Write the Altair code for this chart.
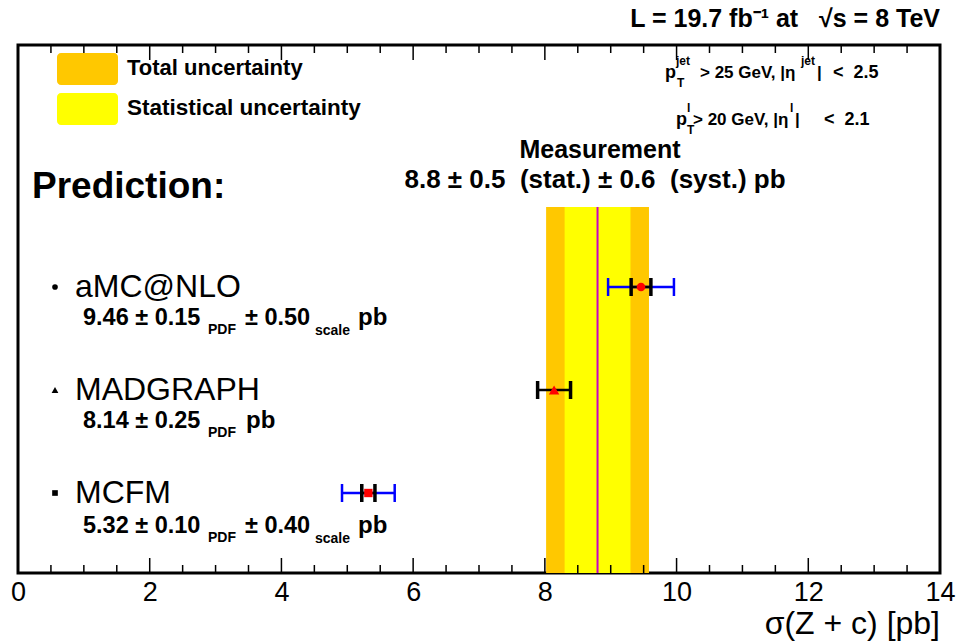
import altair as alt
import pandas as pd

# ---- data ----
models = ["aMC@NLO", "MADGRAPH", "MCFM"]
pred_val = [9.46, 8.14, 5.32]
pred_pdf = [0.15, 0.25, 0.10]
pred_scale = [0.50, 0.0, 0.40]
shapes = ["circle", "triangle-up", "square"]

meas_val = 8.8
meas_stat = 0.5
meas_syst = 0.6
meas_tot = (meas_stat ** 2 + meas_syst ** 2) ** 0.5

major_ticks = [0, 2, 4, 6, 8, 10, 12, 14]
minor_ticks = [i * 0.5 for i in range(29) if (i * 0.5) not in major_ticks]

W, H = 922, 528
FONT = "Liberation Sans, Arial, Helvetica, sans-serif"
NB = "\u00a0"

xscale = alt.Scale(domain=[0, 14], nice=False, zero=False)
xaxis = alt.Axis(values=major_ticks, ticks=False, domain=False, grid=False,
                 labelFontSize=27, labelFont=FONT, labelColor="black",
                 labelPadding=6, title=None, labelFlush=False)


def X(field):
    return alt.X(field, type="quantitative", scale=xscale, axis=xaxis)


yscale = alt.Scale(domain=[0, 2], range=[242, 448], nice=False, zero=False)


def Y(field="rank"):
    return alt.Y(field, type="quantitative", scale=yscale, axis=None)


# measurement bands
bands = pd.DataFrame({
    "lo": [meas_val - meas_tot, meas_val - meas_stat],
    "hi": [meas_val + meas_tot, meas_val + meas_stat],
})
band_layer = alt.layer(
    alt.Chart(bands.iloc[[0]]).mark_rect(color="#ffc800").encode(
        x=X("lo"), x2="hi", y=alt.value(162), y2=alt.value(H)),
    alt.Chart(bands.iloc[[1]]).mark_rect(color="#ffff00").encode(
        x=X("lo"), x2="hi", y=alt.value(162), y2=alt.value(H)),
)

meas_line = alt.Chart(pd.DataFrame({"v": [meas_val]})).mark_rule(
    color="#c800c8", strokeWidth=2).encode(x=X("v"), y=alt.value(162), y2=alt.value(H))

# prediction error bars
rows = []
for i, (m, v, p, s) in enumerate(zip(models, pred_val, pred_pdf, pred_scale)):
    if s > 0:
        rows.append({"model": m, "rank": i, "lo": v - s, "hi": v + s, "kind": "scale"})
    rows.append({"model": m, "rank": i, "lo": v - p, "hi": v + p, "kind": "pdf"})
err = pd.DataFrame(rows)
err_s = err[err.kind == "scale"]
err_p = err[err.kind == "pdf"]


def bar_layers(df, color, thick):
    capdf = pd.concat([df.assign(pos=df["lo"]), df.assign(pos=df["hi"])])
    return alt.layer(
        alt.Chart(df).mark_rule(color=color, strokeWidth=2.5).encode(x=X("lo"), x2="hi", y=Y()),
        alt.Chart(capdf).mark_tick(orient="vertical", size=18, thickness=thick, color=color,
                                   opacity=1).encode(x=X("pos"), y=Y()),
    )


preds = pd.DataFrame({"model": models, "val": pred_val, "rank": list(range(len(models)))})
red_sizes = {"circle": 75, "triangle-up": 110, "square": 70}
black_sizes = {"circle": 32, "triangle-up": 45, "square": 32}
marker_layers = []
for i, shp in enumerate(shapes):
    row = preds.iloc[[i]]
    marker_layers.append(alt.Chart(row).mark_point(
        filled=True, color="#ff0000", opacity=1, strokeWidth=0, shape=shp,
        size=red_sizes[shp]).encode(x=X("val"), y=Y()))
    marker_layers.append(alt.Chart(row).mark_point(
        filled=True, color="black", opacity=1, strokeWidth=0, shape=shp,
        size=black_sizes[shp]).encode(x=alt.value(37), y=Y()))

names = alt.Chart(preds).mark_text(align="left", baseline="middle", fontSize=32,
                                   font=FONT, color="black").encode(
    x=alt.value(57), y=Y(), text="model:N")

# axis ticks (inward), bottom and top
maj = pd.DataFrame({"t": major_ticks})
mnr = pd.DataFrame({"t": minor_ticks})
ticks = alt.layer(
    alt.Chart(maj).mark_rule(color="black", strokeWidth=1.5).encode(x=X("t"), y=alt.value(H), y2=alt.value(H - 15)),
    alt.Chart(mnr).mark_rule(color="black", strokeWidth=1.5).encode(x=X("t"), y=alt.value(H), y2=alt.value(H - 8)),
    alt.Chart(maj).mark_rule(color="black", strokeWidth=1.5).encode(x=X("t"), y=alt.value(0), y2=alt.value(15)),
    alt.Chart(mnr).mark_rule(color="black", strokeWidth=1.5).encode(x=X("t"), y=alt.value(0), y2=alt.value(8)),
)

# legend boxes
leg_labels = ["Total uncertainty", "Statistical uncertainty"]
leg_df = pd.DataFrame({"t": leg_labels})
leg_boxes = alt.layer(
    alt.Chart(leg_df.iloc[[0]]).mark_rect(cornerRadius=4, color="#ffc800").encode(
        x=alt.value(39), x2=alt.value(100), y=alt.value(8), y2=alt.value(40)),
    alt.Chart(leg_df.iloc[[1]]).mark_rect(cornerRadius=4, color="#ffff00").encode(
        x=alt.value(39), x2=alt.value(100), y=alt.value(48), y2=alt.value(80)),
)


def txt(s, x, y, size, bold=True, align="left", baseline="alphabetic"):
    return alt.Chart(pd.DataFrame({"s": [s]})).mark_text(
        align=align, baseline=baseline, fontSize=size, font=FONT,
        fontWeight="bold" if bold else "normal", color="black").encode(
        x=alt.value(x), y=alt.value(y), text="s:N")


texts = [
    txt(leg_labels[0], 109, 30, 22),
    txt(leg_labels[1], 109, 70, 22.5),
    # cuts
    txt("p", 647, 33, 18), txt("jet", 658, 20, 12), txt("T", 659, 42, 12),
    txt("> 25 GeV, |η", 682, 33, 17), txt("jet", 783, 20, 12), txt("|", 799, 33, 17),
    txt("<" + NB * 2 + "2.5", 815, 33, 18),
    txt("p", 658, 80, 18), txt("l", 669, 67, 12), txt("T", 669, 89, 12),
    txt("> 20 GeV, |η", 675, 80, 17), txt("l", 772, 67, 12), txt("|", 777, 80, 17),
    txt("<" + NB * 2 + "2.1", 806, 80, 18),
    # header & axis title
    txt("L = 19.7 fb⁻¹ at" + NB * 3 + "√s = 8 TeV", W, -18, 25, align="right"),
    txt("σ(Z + c) [pb]", W, 589, 32, bold=False, align="right"),
    # prediction headings
    txt("Prediction:", 14, 153, 37),
    txt("Measurement", 582, 113, 25, align="center"),
    txt(f"{meas_val} ± {meas_stat}{NB}{NB}(stat.) ± {meas_syst}{NB}{NB}(syst.) pb", 577, 143, 26,
        align="center"),
]

# value lines
val_y = [280, 383, 488]
for m, v, p, s, yb in zip(models, pred_val, pred_pdf, pred_scale, val_y):
    texts.append(txt(f"{v:.2f} ± {p:.2f}", 65, yb, 23.5))
    texts.append(txt("PDF", 190, yb + 9, 14))
    if s > 0:
        texts.append(txt(f"± {s:.2f}", 227, yb, 23.5))
        texts.append(txt("scale", 297, yb + 10, 14))
        texts.append(txt("pb", 340, yb, 24))
    else:
        texts.append(txt("pb", 228, yb, 24))

chart = alt.layer(
    band_layer, meas_line, ticks, leg_boxes,
    bar_layers(err_s, "#0000ff", 2.5), bar_layers(err_p, "#000000", 3.5),
    *marker_layers, names, *texts
).properties(
    width=W, height=H,
    background="white",
    autosize=alt.AutoSizeParams(type="none"),
    padding={"left": 18, "top": 45, "right": 17, "bottom": 68},
).configure_view(stroke="black", strokeWidth=3)

chart.save("out.html", embed_options={"renderer": "svg", "actions": False})
